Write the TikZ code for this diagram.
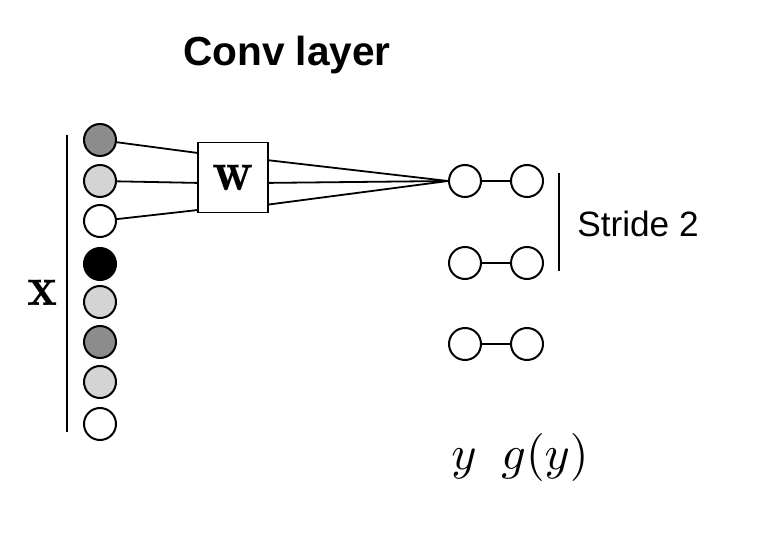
\documentclass[tikz,border=0pt]{standalone}
\usepackage{amsmath,amssymb}
\usepackage{fontspec}
\setsansfont{Liberation Sans}
\usetikzlibrary{positioning}

\definecolor{darkcell}{HTML}{8C8C8C}
\definecolor{lightcell}{HTML}{D4D4D4}
\newcommand{\BigMath}[1]{\scalebox{2.4}{$#1$}}
\newcommand{\BigBold}[1]{\scalebox{2.85}{$\mathbf{#1}$}}

\begin{document}
\begin{tikzpicture}[x=0.5pt, y=-0.5pt, line width=0.9pt, main node/.style={circle,draw,line width=1pt,inner sep=0pt,minimum size=16pt}, bar/.style={line width=0.6pt}]

\useasboundingbox (0,0) rectangle (760,550);

\node[font=\sffamily\bfseries\fontsize{20.3}{24}\selectfont](title) at (287,55) {Conv layer};

\node[main node, fill=darkcell](x1) at (100,140) {};
\node[main node, fill=lightcell](x2) at (100,181) {};
\node[main node, fill=white](x3) at (100,221) {};
\node[main node, fill=black](x4) at (100,264) {};
\node[main node, fill=lightcell](x5) at (100,302) {};
\node[main node, fill=darkcell](x6) at (100,342) {};
\node[main node, fill=lightcell](x7) at (100,382) {};
\node[main node, fill=white](x8) at (100,424) {};

\coordinate (xtop) at (67,135);
\coordinate (xbot) at (67,432);
\draw[bar] (xtop) -- (xbot);
\node(xlab) at (43,293) {\BigBold{x}};

\node[draw, minimum size=35pt, inner sep=0pt](w) at (233,177.5) {\BigBold{w}};

\draw (x1) -- ([yshift=12.3pt]w.west);
\draw (x2) -- ([yshift=-2.7pt]w.west);
\draw (x3) -- ([yshift=-16.3pt]w.west);

\node[main node](y1) at (465,181) {};
\node[main node](y2) at (465,263) {};
\node[main node](y3) at (465,344) {};
\node[main node](g1) at (527,181) {};
\node[main node](g2) at (527,263) {};
\node[main node](g3) at (527,344) {};

\draw ([yshift=8.6pt]w.east) -- (y1.west);
\draw ([yshift=-2.7pt]w.east) -- (y1.west);
\draw ([yshift=-13.5pt]w.east) -- (y1.west);

\draw (y1) -- (g1);
\draw (y2) -- (g2);
\draw (y3) -- (g3);

\coordinate (stop) at (559,173);
\coordinate (sbot) at (559,271);
\draw[bar] (stop) -- (sbot);
\node[font=\sffamily\fontsize{17.6}{21}\selectfont](stride) at (638,224) {Stride 2};

\node[anchor=base](ylab) at (464,469) {\BigMath{y}};
\node[anchor=base](glab) at (545,469) {\BigMath{g(y)}};

\end{tikzpicture}
\end{document}
